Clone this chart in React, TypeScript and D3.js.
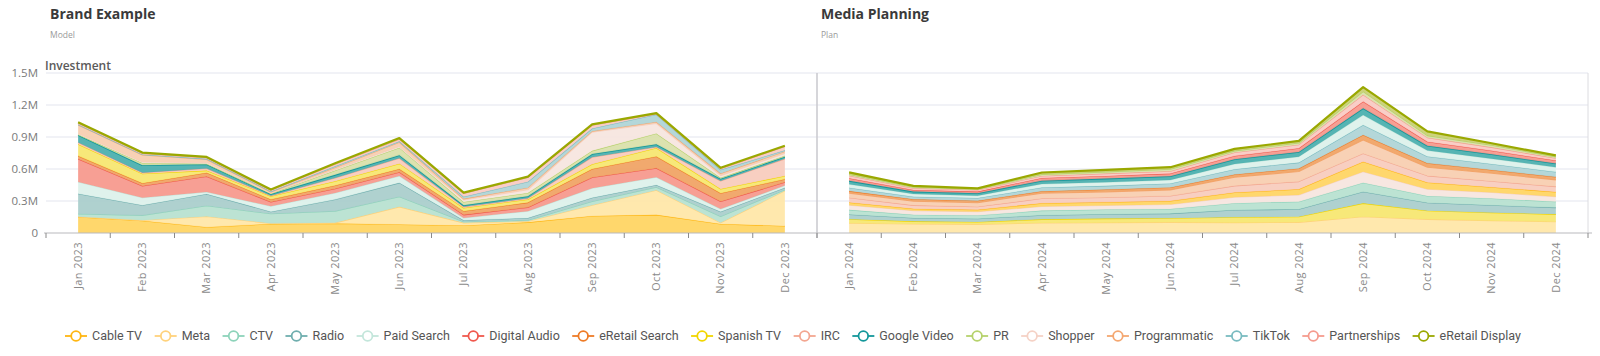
import React from 'react';
import * as d3 from 'd3';

// ---------- categories ----------
const months2023 = ['Jan 2023','Feb 2023','Mar 2023','Apr 2023','May 2023','Jun 2023','Jul 2023','Aug 2023','Sep 2023','Oct 2023','Nov 2023','Dec 2023'];
const months2024 = ['Jan 2024','Feb 2024','Mar 2024','Apr 2024','May 2024','Jun 2024','Jul 2024','Aug 2024','Sep 2024','Oct 2024','Nov 2024','Dec 2024'];
const seriesNames = ['Cable TV','Meta','CTV','Radio','Paid Search','Digital Audio','eRetail Search','Spanish TV','IRC','Google Video','PR','Shopper','Programmatic','TikTok','Partnerships','eRetail Display'];
const strokeColors = ['#FFB612','#FFD27C','#8DD3BA','#6FAEAE','#C3E6DB','#F0584D','#EE7B26','#F2D600','#F3A690','#13979A','#B6D26C','#F5D2C6','#F4A771','#79BBC0','#F59B8E','#9AA800'];
const fillColors   = ['#FFD45F','#FFE6A6','#B6E1CF','#A8CDCB','#DCF1EA','#F6978B','#F0A262','#F6E66E','#F7CBBC','#48AEAC','#D9E0A8','#F6E5DE','#F7CDAF','#AED4D6','#F8CAC2','#C9CF72'];

// ---------- tick labels ----------
const yTickValues = [0, 300, 600, 900, 1200, 1500];
const yTickLabels = ['0', '0.3M', '0.6M', '0.9M', '1.2M', '1.5M'];

// ---------- Brand Example / Model (2023), thousands ----------
const model_CableTV        = [150, 115,  55,  85,  90,  80,  70, 100, 160, 170,  85,  65];
const model_Meta           = [  3,   5, 100,   5,   5, 165,  25,  10, 100, 230,  10, 330];
const model_CTV            = [ 25,  45, 100,  90, 110,  95,  10,  10,  35,  30,  60,  10];
const model_Radio          = [190,  95, 110,  20, 110, 130,  15,  20,  35,  20,  45,  20];
const model_PaidSearch     = [110,  70,  20,  50,  60,  65,  20,  65,  90,  72,  25,  20];
const model_DigitalAudio   = [215, 110, 145,  40,  40,  35,  30,  35, 100,  85,  70,  30];
const model_eRetailSearch  = [ 30,  26,  35,  25,  30,  30,  35,  45,  80, 110,  78,  30];
const model_SpanishTV      = [110,  90,  20,  30,  40,  50,  30,  30,  45,  80,  40,  30];
const model_IRC            = [ 15,  10,  20,   5,  30,  50,  10,  10,  65,  10,  75, 160];
const model_GoogleVideo    = [ 70,  70,  40,  15,  30,  30,  15,  20,  30,  25,  20,  20];
const model_PR             = [  5,  20,   5,   5,  40,  70,  30,  30,  30, 100,  10,  10];
const model_Shopper        = [ 10,  10,  10,   5,  10,  10,  20,  30, 175,  94,  20,  20];
const model_Programmatic   = [ 80,  65,  30,  10,  20,  40,  10,  20,  10,  15,  20,  20];
const model_TikTok         = [  5,   5,   5,   5,  10,  10,  20,  55,  25,  70,  35,  10];
const model_Partnerships   = [ 10,  10,  10,  10,  20,  20,  30,  40,  30,   5,  10,  35];
const model_eRetailDisplay = [ 10,   8,   8,   8,   8,  10,   8,   8,   8,   8,   8,   8];

// ---------- Media Planning / Plan (2024), thousands ----------
const plan_Meta           = [ 91,  84,  81,  94,  97, 100,  97, 100, 153, 128, 116, 106];
const plan_SpanishTV      = [ 38,  25,  22,  34,  38,  38,  50,  53, 125,  81,  75,  69];
const plan_Radio          = [ 44,  31,  31,  38,  41,  44,  69,  69, 109,  75,  69,  63];
const plan_CTV            = [ 44,  31,  31,  44,  44,  44,  63,  72,  84,  63,  63,  56];
const plan_Shopper        = [ 44,  38,  34,  38,  38,  41,  56,  63, 103,  63,  56,  47];
const plan_CableTV        = [ 25,  19,  19,  31,  31,  34,  44,  53,  94,  63,  50,  44];
const plan_IRC            = [ 44,  31,  28,  44,  44,  47,  63,  72,  78,  63,  56,  50];
const plan_Programmatic   = [ 44,  38,  38,  50,  53,  56,  81,  94, 125,  81,  75,  63];
const plan_eRetailSearch  = [ 19,  19,  19,  19,  22,  22,  25,  28,  47,  38,  31,  28];
const plan_TikTok         = [ 31,  25,  25,  34,  34,  38,  50,  56,  94,  63,  56,  47];
const plan_PaidSearch     = [ 34,  25,  22,  34,  34,  34,  50,  56,  94,  56,  50,  44];
const plan_GoogleVideo    = [ 31,  22,  22,  31,  34,  34,  44,  44,  63,  44,  41,  34];
const plan_DigitalAudio   = [ 25,  16,  16,  25,  25,  25,  31,  34,  63,  38,  34,  28];
const plan_Partnerships   = [ 22,  16,  16,  19,  22,  22,  31,  34,  63,  38,  31,  22];
const plan_PR             = [ 13,   9,   6,  13,  16,  19,  16,  16,  31,  19,  19,  13];
const plan_eRetailDisplay = [ 19,  13,   9,  19,  19,  19,  19,  19,  41,  40,  19,  13];

const modelSeries: Record<string, number[]> = {
  'Cable TV': model_CableTV, 'Meta': model_Meta, 'CTV': model_CTV, 'Radio': model_Radio,
  'Paid Search': model_PaidSearch, 'Digital Audio': model_DigitalAudio, 'eRetail Search': model_eRetailSearch,
  'Spanish TV': model_SpanishTV, 'IRC': model_IRC, 'Google Video': model_GoogleVideo, 'PR': model_PR,
  'Shopper': model_Shopper, 'Programmatic': model_Programmatic, 'TikTok': model_TikTok,
  'Partnerships': model_Partnerships, 'eRetail Display': model_eRetailDisplay,
};
const planSeries: Record<string, number[]> = {
  'Meta': plan_Meta, 'Spanish TV': plan_SpanishTV, 'Radio': plan_Radio, 'CTV': plan_CTV,
  'Shopper': plan_Shopper, 'Cable TV': plan_CableTV, 'IRC': plan_IRC, 'Programmatic': plan_Programmatic,
  'eRetail Search': plan_eRetailSearch, 'TikTok': plan_TikTok, 'Paid Search': plan_PaidSearch,
  'Google Video': plan_GoogleVideo, 'Digital Audio': plan_DigitalAudio, 'Partnerships': plan_Partnerships,
  'PR': plan_PR, 'eRetail Display': plan_eRetailDisplay,
};
const modelOrder = seriesNames;
const planOrder = ['Meta','Spanish TV','Radio','CTV','Shopper','Cable TV','IRC','Programmatic','eRetail Search','TikTok','Paid Search','Google Video','Digital Audio','Partnerships','PR','eRetail Display'];

const W = 1600, H = 356;
const X0 = 46, X1 = 1588, YTOP = 73, YBOT = 233;
const FONT = '"Open Sans", "DejaVu Sans", sans-serif';

function colorOf(name: string) {
  const i = seriesNames.indexOf(name);
  return { stroke: strokeColors[i], fill: fillColors[i] };
}

function measure(text: string, font: string) {
  const c = document.createElement('canvas').getContext('2d') as CanvasRenderingContext2D;
  c.font = font;
  return c.measureText(text).width;
}

function buildStack(months: string[], series: Record<string, number[]>, order: string[]) {
  const rows = months.map((m, i) => {
    const r: any = { month: m };
    order.forEach((k) => { r[k] = series[k][i]; });
    return r;
  });
  return d3.stack<any>().keys(order)(rows);
}

export default function App() {
  const allMonths = [...months2023, ...months2024];
  const x = d3.scaleBand<string>().domain(allMonths).range([X0, X1]).padding(0);
  const y = d3.scaleLinear().domain([0, 1500]).range([YBOT, YTOP]);
  const cx = (m: string) => (x(m) as number) + x.bandwidth() / 2;

  const modelStack = buildStack(months2023, modelSeries, modelOrder);
  const planStack = buildStack(months2024, planSeries, planOrder);

  const area = d3.area<any>().x((d) => cx(d.data.month)).y0((d) => y(d[0])).y1((d) => y(d[1]));
  const topLine = d3.line<any>().x((d) => cx(d.data.month)).y((d) => y(d[1]));

  const drawStack = (stack: any[], keyPrefix: string) =>
    stack.map((layer) => {
      const c = colorOf(layer.key);
      const isTop = layer.key === 'eRetail Display';
      const isGV = layer.key === 'Google Video';
      return (
        <g key={keyPrefix + layer.key}>
          <path d={area(layer) as string} fill={c.fill} fillOpacity={0.92} />
          <path d={topLine(layer) as string} fill="none" stroke={c.stroke}
            strokeWidth={isTop ? 2.2 : isGV ? 1.6 : 1.1} strokeLinejoin="round" />
        </g>
      );
    });

  // legend layout
  const narrowTest = measure('Cable TV Paid Search', '15px "Liberation Sans Narrow", monospace');
  const monoTest = measure('Cable TV Paid Search', '15px monospace');
  const hasNarrow = Math.abs(narrowTest - monoTest) > 1;
  const legendFont = hasNarrow ? '"Liberation Sans Narrow", Roboto, sans-serif' : 'Roboto, sans-serif';
  const legendSize = hasNarrow ? 14.5 : 12.5;
  const markerW = 22, markerGap = 5;
  const textW = seriesNames.map((n) => measure(n, `${legendSize}px ${hasNarrow ? '"Liberation Sans Narrow"' : 'Roboto'}`));
  const itemW = textW.map((w) => markerW + markerGap + w);
  const L0 = 65, L1 = 1521;
  const gap = (L1 - L0 - d3.sum(itemW)) / (seriesNames.length - 1);
  let acc = L0;
  const legendX = itemW.map((w) => { const s = acc; acc += w + gap; return s; });
  const LY = 336;

  const tickXs = [...allMonths.map((m) => x(m) as number), X1];
  const dividerX = x('Jan 2024') as number;

  return (
    <svg width={W} height={H} style={{ position: 'absolute', left: 0, top: 0, background: '#fff' }}
      fontFamily={FONT}>
      {/* titles */}
      <text x={50} y={19} fontSize={14} fontWeight={700} fill="#3a3a3a">Brand Example</text>
      <text x={50} y={38} fontSize={8.5} fill="#9a9a9a">Model</text>
      <text x={821} y={19} fontSize={14} fontWeight={700} fill="#3a3a3a">Media Planning</text>
      <text x={821} y={38} fontSize={8.5} fill="#9a9a9a">Plan</text>
      <text x={45} y={70} fontSize={12} fontWeight={600} fill="#5a5a5a">Investment</text>

      {/* gridlines */}
      {yTickValues.map((v, i) => (
        <g key={'g' + v}>
          {v > 0 && <line x1={X0} x2={X1} y1={y(v)} y2={y(v)} stroke="#E3E5EE" strokeWidth={1} />}
          <text x={38} y={y(v)} dy="0.35em" textAnchor="end" fontSize={11.5} fill="#7a7a7a">{yTickLabels[i]}</text>
        </g>
      ))}

      {drawStack(modelStack, 'm')}
      {drawStack(planStack, 'p')}

      {/* frame */}
      <line x1={X1} x2={X1} y1={YTOP} y2={YBOT} stroke="#DCDCE0" strokeWidth={1} />
      <line x1={dividerX} x2={dividerX} y1={YTOP} y2={YBOT + 5} stroke="#C9C9CE" strokeWidth={1.5} />
      <line x1={X0 - 2} x2={X1 + 4} y1={YBOT} y2={YBOT} stroke="#B9B9BE" strokeWidth={1.2} />
      {tickXs.map((tx, i) => (
        <line key={'t' + i} x1={tx} x2={tx} y1={YBOT} y2={YBOT + 5} stroke="#8a8a8a" strokeWidth={1} />
      ))}
      {allMonths.map((m) => (
        <text key={'xl' + m} transform={`translate(${cx(m)},${YBOT + 9}) rotate(-90)`}
          textAnchor="end" dy="0.35em" fontSize={11} fill="#8a8a8a" letterSpacing={0.4}>{m}</text>
      ))}

      {/* legend */}
      {seriesNames.map((n, i) => {
        const lx = legendX[i];
        return (
          <g key={'lg' + n}>
            <line x1={lx} x2={lx + markerW} y1={LY} y2={LY} stroke={strokeColors[i]} strokeWidth={1.8} />
            <circle cx={lx + markerW / 2} cy={LY} r={4.8} fill="#fff" stroke={strokeColors[i]} strokeWidth={1.8} />
            <text x={lx + markerW + markerGap} y={LY} dy="0.35em" fontSize={legendSize}
              fontFamily={legendFont} fill="#555">{n}</text>
          </g>
        );
      })}
    </svg>
  );
}
